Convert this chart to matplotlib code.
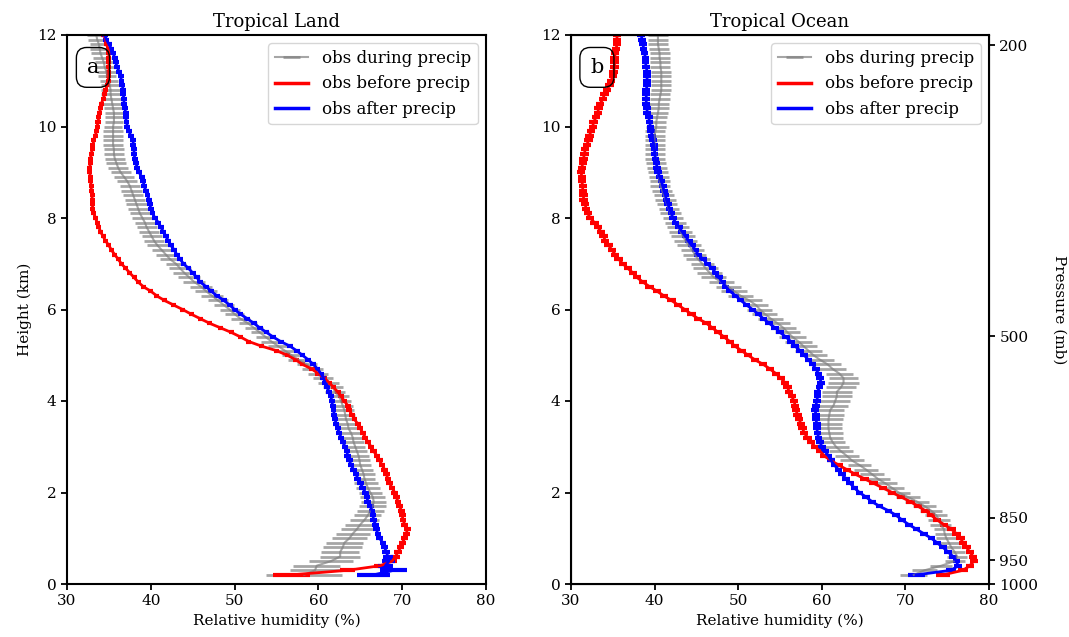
import numpy as np
import matplotlib
matplotlib.use('Agg')
import matplotlib.pyplot as plt
from matplotlib.lines import Line2D

plt.rcParams['font.family'] = 'serif'
plt.rcParams['font.serif'] = ['DejaVu Serif']

# height levels (km), 0.2 to 12.0 every 0.1 km
heights = np.round(np.arange(0.2, 12.05, 0.1), 1)

# ---------------- Tropical Land ----------------
land_during = [
    58.3, 59.6, 59.8, 61.5, 62.6, 62.6, 62.9, 63.1,                 # 0.2-0.9
    63.7, 64.1, 64.6, 65.0, 65.5, 65.9, 66.2, 66.5, 66.6, 66.5,     # 1
    66.2, 65.9, 65.7, 65.5, 65.4, 65.2, 65.0, 64.9, 64.8, 64.6,     # 2
    64.4, 64.2, 64.1, 63.9, 63.6, 63.5, 63.3, 63.2, 63.1, 62.9,     # 3
    62.7, 62.5, 62.0, 61.7, 61.2, 60.6, 59.9, 59.3, 58.6, 57.6,     # 4
    56.8, 56.0, 55.2, 54.4, 53.7, 53.0, 52.3, 51.6, 50.7, 50.0,     # 5
    49.4, 48.7, 48.0, 47.3, 46.6, 46.0, 45.2, 44.6, 44.0, 43.5,     # 6
    43.0, 42.3, 41.8, 41.3, 40.8, 40.4, 40.1, 39.8, 39.5, 39.3,     # 7
    39.0, 38.7, 38.5, 38.3, 38.1, 37.9, 37.7, 37.5, 37.2, 36.8,     # 8
    36.4, 36.1, 35.9, 35.7, 35.6, 35.6, 35.5, 35.5, 35.5, 35.5,     # 9
    35.5, 35.6, 35.6, 35.6, 35.5, 35.4, 35.3, 35.2, 35.2, 35.1,     # 10
    35.0, 34.8, 34.7, 34.5, 34.4, 34.2, 34.0, 33.9, 33.8, 33.6, 33.5,  # 11-12
]
land_during_err = [
    4.5, 3.0, 2.8, 2.6, 2.4, 2.3, 2.3, 2.2,
    2.1, 2.0, 1.9, 1.8, 1.7, 1.6, 1.6, 1.6, 1.5, 1.5,
    1.4, 1.4, 1.4, 1.3, 1.3, 1.3, 1.3, 1.3, 1.2, 1.2,
    1.2, 1.2, 1.2, 1.2, 1.2, 1.2, 1.2, 1.2, 1.2, 1.2,
    1.2, 1.2, 1.2, 1.2, 1.2, 1.2, 1.2, 1.2, 1.2, 1.2,
    1.2, 1.2, 1.2, 1.2, 1.1, 1.1, 1.1, 1.1, 1.1, 1.1,
    1.2, 1.2, 1.2, 1.3, 1.3, 1.3, 1.3, 1.3, 1.3, 1.3,
    1.2, 1.2, 1.2, 1.2, 1.2, 1.2, 1.2, 1.2, 1.2, 1.2,
    1.2, 1.2, 1.2, 1.2, 1.2, 1.2, 1.2, 1.2, 1.2, 1.2,
    1.2, 1.2, 1.2, 1.2, 1.2, 1.2, 1.2, 1.2, 1.2, 1.2,
    1.1, 1.1, 1.1, 1.1, 1.1, 1.1, 1.1, 1.1, 1.1, 1.1,
    1.1, 1.1, 1.1, 1.1, 1.1, 1.1, 1.1, 1.1, 1.1, 1.1, 1.1,
]
land_before = [
    56.8, 63.5, 67.4, 68.8, 69.2, 69.5, 69.8, 70.0,
    70.3, 70.5, 70.6, 70.3, 70.1, 70.0, 69.9, 69.7, 69.5, 69.3,
    69.1, 68.8, 68.5, 68.3, 68.1, 67.9, 67.6, 67.3, 67.0, 66.6,
    66.3, 65.9, 65.6, 65.3, 65.0, 64.7, 64.3, 64.0, 63.7, 63.5,
    63.1, 62.7, 62.3, 61.8, 61.3, 60.7, 60.0, 59.2, 58.1, 57.3,
    56.3, 55.0, 53.2, 51.7, 50.7, 49.6, 48.3, 47.0, 45.9, 44.8,
    43.8, 42.7, 41.6, 40.7, 40.0, 39.1, 38.5, 38.0, 37.5, 37.0,
    36.5, 36.1, 35.7, 35.3, 35.0, 34.6, 34.3, 34.0, 33.8, 33.6,
    33.4, 33.2, 33.1, 33.0, 33.0, 33.0, 32.9, 32.9, 32.8, 32.8,
    32.7, 32.7, 32.8, 32.8, 32.9, 33.0, 33.1, 33.2, 33.4, 33.5,
    33.6, 33.7, 33.8, 33.9, 34.0, 34.1, 34.3, 34.5, 34.6, 34.8,
    34.9, 35.0, 35.0, 35.0, 35.0, 35.0, 35.0, 34.9, 34.7, 34.6, 34.4,
]
land_before_err = [
    2.2, 0.9, 0.8, 0.6, 0.5, 0.45, 0.4, 0.4,
    0.4, 0.4, 0.4, 0.4, 0.4, 0.4, 0.4, 0.4, 0.4, 0.4,
    0.4, 0.4, 0.4, 0.4, 0.4, 0.4, 0.4, 0.4, 0.4, 0.4,
    0.35, 0.35, 0.35, 0.35, 0.35, 0.35, 0.35, 0.35, 0.35, 0.35,
    0.35, 0.35, 0.35, 0.35, 0.35, 0.35, 0.35, 0.35, 0.35, 0.35,
    0.3, 0.3, 0.3, 0.3, 0.3, 0.3, 0.3, 0.3, 0.3, 0.3,
    0.3, 0.3, 0.3, 0.3, 0.3, 0.3, 0.3, 0.3, 0.3, 0.3,
    0.3, 0.3, 0.3, 0.3, 0.3, 0.3, 0.3, 0.3, 0.3, 0.3,
    0.3, 0.3, 0.3, 0.3, 0.3, 0.3, 0.3, 0.3, 0.3, 0.3,
    0.3, 0.3, 0.3, 0.3, 0.3, 0.3, 0.3, 0.3, 0.3, 0.3,
    0.3, 0.3, 0.3, 0.3, 0.3, 0.3, 0.3, 0.3, 0.3, 0.3,
    0.3, 0.3, 0.3, 0.3, 0.3, 0.3, 0.3, 0.3, 0.3, 0.3, 0.3,
]
land_after = [
    66.6, 69.0, 68.0, 68.4, 68.3, 68.1, 67.9, 67.7,
    67.3, 67.1, 66.9, 66.8, 66.6, 66.5, 66.4, 66.2, 65.9, 65.8,
    65.6, 65.3, 65.0, 64.7, 64.5, 64.2, 63.9, 63.7, 63.5, 63.4,
    63.2, 62.9, 62.7, 62.5, 62.3, 62.1, 62.0, 61.9, 61.8, 61.7,
    61.6, 61.5, 61.3, 61.0, 60.8, 60.6, 60.3, 59.9, 59.4, 58.8,
    58.1, 57.4, 56.6, 55.5, 54.6, 53.8, 53.0, 52.3, 51.5, 50.7,
    50.0, 49.4, 48.7, 47.9, 47.2, 46.6, 45.9, 45.5, 45.0, 44.5,
    43.9, 43.5, 43.1, 42.8, 42.4, 42.1, 41.8, 41.5, 41.2, 40.9,
    40.5, 40.2, 40.0, 39.9, 39.8, 39.6, 39.4, 39.2, 39.1, 38.9,
    38.6, 38.4, 38.2, 38.1, 38.0, 38.0, 37.9, 37.9, 37.6, 37.4,
    37.2, 37.1, 37.0, 37.0, 36.9, 36.8, 36.8, 36.7, 36.7, 36.6,
    36.5, 36.4, 36.2, 36.0, 35.8, 35.7, 35.5, 35.3, 35.0, 34.7, 34.5,
]
land_after_err = [
    2.0, 1.6, 0.9, 0.8, 0.6, 0.5, 0.45, 0.4,
    0.4, 0.4, 0.4, 0.4, 0.4, 0.4, 0.4, 0.4, 0.4, 0.4,
    0.4, 0.4, 0.4, 0.4, 0.4, 0.4, 0.4, 0.4, 0.4, 0.4,
    0.35, 0.35, 0.35, 0.35, 0.35, 0.35, 0.35, 0.35, 0.35, 0.35,
    0.35, 0.35, 0.35, 0.35, 0.35, 0.35, 0.35, 0.35, 0.35, 0.35,
    0.35, 0.35, 0.35, 0.35, 0.35, 0.35, 0.35, 0.35, 0.35, 0.35,
    0.35, 0.35, 0.35, 0.35, 0.35, 0.35, 0.35, 0.35, 0.35, 0.35,
    0.35, 0.35, 0.35, 0.35, 0.35, 0.35, 0.35, 0.35, 0.35, 0.35,
    0.35, 0.35, 0.35, 0.35, 0.35, 0.35, 0.35, 0.35, 0.35, 0.35,
    0.35, 0.35, 0.35, 0.35, 0.35, 0.35, 0.35, 0.35, 0.35, 0.35,
    0.35, 0.35, 0.35, 0.35, 0.35, 0.35, 0.35, 0.35, 0.35, 0.35,
    0.35, 0.35, 0.35, 0.35, 0.35, 0.35, 0.35, 0.35, 0.35, 0.35, 0.35,
]

# ---------------- Tropical Ocean ----------------
ocean_during = [
    71.0, 72.3, 74.3, 75.9, 76.2, 75.9, 75.5, 75.2,
    74.9, 74.7, 74.6, 74.2, 74.0, 73.7, 73.1, 72.3, 71.4, 70.3,
    69.2, 68.4, 67.6, 66.7, 66.0, 65.3, 64.5, 63.6, 63.0, 62.3,
    61.7, 61.3, 61.0, 60.9, 60.8, 60.8, 60.8, 60.9, 61.0, 61.4,
    61.6, 61.8, 61.8, 62.3, 62.6, 62.6, 62.1, 61.3, 60.7, 59.8,
    59.0, 58.4, 57.8, 57.2, 56.5, 55.9, 55.4, 54.7, 53.9, 53.2,
    52.6, 52.1, 51.3, 50.3, 49.5, 48.8, 48.0, 47.1, 46.6, 46.1,
    45.7, 45.2, 44.8, 44.5, 44.1, 43.7, 43.4, 43.1, 42.8, 42.5,
    42.2, 41.9, 41.7, 41.5, 41.3, 41.1, 40.9, 40.7, 40.6, 40.5,
    40.4, 40.3, 40.2, 40.1, 40.1, 40.0, 40.0, 40.0, 40.0, 40.1,
    40.2, 40.2, 40.3, 40.4, 40.5, 40.5, 40.6, 40.7, 40.8, 40.8,
    40.8, 40.8, 40.8, 40.7, 40.7, 40.6, 40.6, 40.5, 40.4, 40.4, 40.4,
]
ocean_during_err = [
    1.6, 1.5, 1.3, 1.2, 1.2, 1.2, 1.2, 1.2,
    1.2, 1.2, 1.2, 1.2, 1.3, 1.3, 1.3, 1.4, 1.4, 1.4,
    1.4, 1.4, 1.4, 1.4, 1.4, 1.4, 1.4, 1.4, 1.4, 1.4,
    1.5, 1.5, 1.5, 1.6, 1.6, 1.6, 1.7, 1.7, 1.7, 1.7,
    1.8, 1.8, 1.8, 1.8, 1.8, 1.7, 1.6, 1.6, 1.6, 1.6,
    1.6, 1.6, 1.6, 1.6, 1.6, 1.5, 1.5, 1.5, 1.5, 1.5,
    1.5, 1.5, 1.5, 1.5, 1.5, 1.5, 1.5, 1.5, 1.5, 1.5,
    1.4, 1.4, 1.4, 1.4, 1.4, 1.4, 1.4, 1.4, 1.3, 1.3,
    1.2, 1.2, 1.2, 1.2, 1.2, 1.2, 1.2, 1.2, 1.2, 1.2,
    1.2, 1.2, 1.2, 1.2, 1.2, 1.2, 1.2, 1.2, 1.2, 1.2,
    1.2, 1.2, 1.2, 1.2, 1.2, 1.2, 1.2, 1.2, 1.2, 1.2,
    1.2, 1.2, 1.2, 1.2, 1.2, 1.2, 1.2, 1.2, 1.2, 1.2, 1.2,
]
ocean_before = [
    74.5, 76.9, 77.7, 78.2, 78.1, 77.7, 77.3, 76.9,
    76.6, 76.1, 75.5, 74.6, 73.8, 73.1, 72.4, 71.5, 70.6, 69.5,
    68.4, 67.3, 66.2, 65.1, 64.0, 63.0, 62.0, 61.1, 60.3, 59.8,
    59.2, 58.7, 58.3, 57.9, 57.7, 57.5, 57.3, 57.1, 56.9, 56.8,
    56.7, 56.4, 56.1, 55.9, 55.6, 55.1, 54.5, 53.8, 53.0, 52.0,
    51.2, 50.4, 49.6, 49.0, 48.3, 47.6, 46.9, 46.2, 45.2, 44.4,
    43.6, 42.8, 42.0, 41.1, 40.3, 39.4, 38.6, 37.9, 37.4, 36.8,
    36.2, 35.7, 35.3, 34.9, 34.5, 34.1, 33.9, 33.6, 33.2, 32.8,
    32.3, 32.0, 31.8, 31.7, 31.5, 31.5, 31.4, 31.4, 31.3, 31.3,
    31.2, 31.3, 31.4, 31.5, 31.6, 31.7, 31.9, 32.1, 32.2, 32.4,
    32.6, 32.7, 33.0, 33.2, 33.3, 33.5, 33.8, 34.0, 34.3, 34.6,
    34.8, 35.0, 35.1, 35.2, 35.2, 35.2, 35.3, 35.4, 35.5, 35.5, 35.5,
]
ocean_before_err = [
    0.8, 0.6, 0.5, 0.5, 0.5, 0.5, 0.5, 0.5,
    0.5, 0.5, 0.5, 0.5, 0.5, 0.5, 0.5, 0.5, 0.5, 0.5,
    0.5, 0.5, 0.5, 0.5, 0.5, 0.5, 0.5, 0.5, 0.5, 0.5,
    0.5, 0.5, 0.5, 0.5, 0.5, 0.5, 0.5, 0.5, 0.5, 0.5,
    0.5, 0.5, 0.5, 0.5, 0.5, 0.5, 0.5, 0.5, 0.5, 0.5,
    0.5, 0.5, 0.5, 0.5, 0.5, 0.5, 0.5, 0.5, 0.5, 0.5,
    0.5, 0.5, 0.5, 0.5, 0.5, 0.5, 0.5, 0.5, 0.5, 0.5,
    0.5, 0.5, 0.5, 0.5, 0.5, 0.5, 0.5, 0.5, 0.5, 0.5,
    0.5, 0.5, 0.5, 0.5, 0.5, 0.5, 0.5, 0.5, 0.5, 0.5,
    0.5, 0.5, 0.5, 0.5, 0.5, 0.5, 0.5, 0.5, 0.5, 0.5,
    0.5, 0.5, 0.5, 0.5, 0.5, 0.5, 0.5, 0.5, 0.5, 0.5,
    0.5, 0.5, 0.5, 0.5, 0.5, 0.5, 0.5, 0.5, 0.5, 0.5, 0.5,
]
ocean_after = [
    71.3, 75.5, 76.3, 76.1, 75.7, 75.1, 74.5, 73.8,
    73.1, 72.2, 71.3, 70.4, 69.6, 68.9, 68.0, 66.9, 66.0, 65.3,
    64.5, 63.9, 63.4, 62.9, 62.4, 62.0, 61.5, 61.1, 60.8, 60.4,
    60.0, 59.8, 59.6, 59.5, 59.4, 59.4, 59.3, 59.3, 59.2, 59.3,
    59.4, 59.5, 59.5, 59.7, 59.9, 59.8, 59.6, 59.3, 58.9, 58.4,
    57.9, 57.4, 56.8, 56.3, 55.7, 55.0, 54.4, 53.7, 53.0, 52.4,
    51.7, 51.0, 50.3, 49.7, 49.0, 48.5, 48.1, 47.7, 47.3, 46.9,
    46.3, 45.8, 45.2, 44.9, 44.5, 44.1, 43.7, 43.3, 42.9, 42.5,
    42.2, 42.0, 41.8, 41.6, 41.4, 41.3, 41.1, 41.0, 40.8, 40.6,
    40.4, 40.3, 40.2, 40.1, 40.0, 40.0, 39.9, 39.8, 39.7, 39.6,
    39.5, 39.4, 39.3, 39.1, 39.1, 39.0, 39.0, 39.0, 39.0, 39.1,
    39.1, 39.1, 39.1, 39.0, 38.9, 38.9, 38.8, 38.7, 38.6, 38.5, 38.4,
]
ocean_after_err = [
    1.0, 0.6, 0.45, 0.45, 0.45, 0.45, 0.45, 0.45,
    0.45, 0.45, 0.45, 0.45, 0.45, 0.45, 0.45, 0.45, 0.45, 0.45,
    0.45, 0.45, 0.45, 0.45, 0.45, 0.45, 0.45, 0.45, 0.45, 0.45,
    0.45, 0.45, 0.45, 0.45, 0.45, 0.45, 0.45, 0.45, 0.45, 0.45,
    0.45, 0.45, 0.45, 0.45, 0.45, 0.45, 0.45, 0.45, 0.45, 0.45,
    0.45, 0.45, 0.45, 0.45, 0.45, 0.45, 0.45, 0.45, 0.45, 0.45,
    0.45, 0.45, 0.45, 0.45, 0.45, 0.45, 0.45, 0.45, 0.45, 0.45,
    0.45, 0.45, 0.45, 0.45, 0.45, 0.45, 0.45, 0.45, 0.45, 0.45,
    0.45, 0.45, 0.45, 0.45, 0.45, 0.45, 0.45, 0.45, 0.45, 0.45,
    0.45, 0.45, 0.45, 0.45, 0.45, 0.45, 0.45, 0.45, 0.45, 0.45,
    0.45, 0.45, 0.45, 0.45, 0.45, 0.45, 0.45, 0.45, 0.45, 0.45,
    0.45, 0.45, 0.45, 0.45, 0.45, 0.45, 0.45, 0.45, 0.45, 0.45, 0.45,
]

# pressure axis on the right of the ocean panel
pressure_labels = ['1000', '950', '850', '500', '200']
pressure_heights = [0.0, 0.52, 1.45, 5.42, 11.78]


def draw_panel(ax, during, during_err, before, before_err, after, after_err, title, letter):
    g = ax.errorbar(during, heights, xerr=during_err, color='gray', alpha=0.7,
                    lw=1.5, elinewidth=2)
    ax.errorbar(before, heights, xerr=before_err, color='red', lw=2, elinewidth=3)
    ax.errorbar(after, heights, xerr=after_err, color='blue', lw=2, elinewidth=3)
    ax.set_xlim(30, 80)
    ax.set_ylim(0, 12)
    ax.set_xticks([30, 40, 50, 60, 70, 80])
    ax.set_title(title, fontsize=13)
    ax.set_xlabel('Relative humidity (%)', fontsize=11)
    ax.tick_params(labelsize=11, width=1.3, length=4)
    for s in ax.spines.values():
        s.set_linewidth(1.5)
    handles = [g,
               Line2D([], [], color='red', lw=2.5),
               Line2D([], [], color='blue', lw=2.5)]
    labels = ['obs during precip', 'obs before precip', 'obs after precip']
    ax.legend(handles, labels, loc='upper right', fontsize=12)
    ax.text(0.062, 0.941, letter, transform=ax.transAxes, fontsize=15,
            ha='center', va='center',
            bbox=dict(boxstyle='round,pad=0.5', fc='none', ec='black'))


fig = plt.figure(figsize=(10.69, 6.37), dpi=100)
ax1 = fig.add_axes([67 / 1069, 53 / 637, 419 / 1069, 549 / 637])
ax2 = fig.add_axes([571 / 1069, 53 / 637, 418 / 1069, 549 / 637])

draw_panel(ax1, land_during, land_during_err, land_before, land_before_err,
           land_after, land_after_err, 'Tropical Land', 'a')
draw_panel(ax2, ocean_during, ocean_during_err, ocean_before, ocean_before_err,
           ocean_after, ocean_after_err, 'Tropical Ocean', 'b')
ax1.set_ylabel('Height (km)', fontsize=11)

axp = ax2.twinx()
axp.set_ylim(0, 12)
axp.set_yticks(pressure_heights)
axp.set_yticklabels(pressure_labels)
axp.tick_params(labelsize=11, width=1.3, length=4)
axp.set_ylabel('Pressure (mb)', rotation=270, labelpad=20, fontsize=11)

fig.savefig('out.png', dpi=100)
